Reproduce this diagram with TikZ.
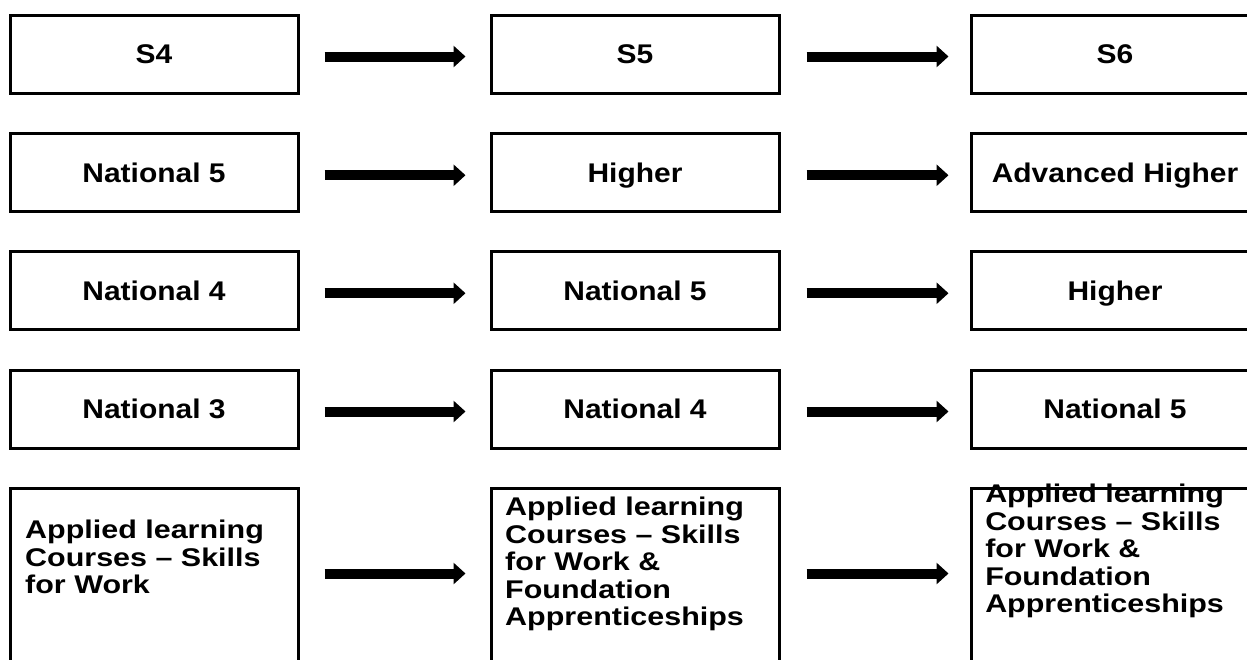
\documentclass[tikz,border=0pt]{standalone}
\usepackage{fontspec}
\setmainfont{Liberation Sans}
\usepackage{graphicx}
\usetikzlibrary{arrows.meta}
\newcommand\hsc[1]{\scalebox{1.11}[1]{#1}}
\begin{document}
\begin{tikzpicture}[x=1pt,y=-1pt,
  box/.style={draw, line width=3pt, minimum width=288pt, minimum height=78pt,
    inner sep=0pt, font=\fontsize{27}{30}\selectfont\bfseries,
    text height=19.3pt, text depth=0pt},
  tallbox/.style={draw, line width=3pt, minimum width=288pt, minimum height=213pt,
    anchor=north, inner sep=0pt},
  longtext/.style={anchor=north west, inner sep=0pt, align=left,
    font=\fontsize{25.6}{27.5}\selectfont\bfseries, xscale=1.19, transform shape},
  arr/.style={line width=10pt, -{Triangle[length=12pt,width=21pt]}},
  arra/.style={arr, shorten <=25pt, shorten >=24pt},
  arrb/.style={arr, shorten <=26pt, shorten >=21pt}]
\clip (0,0) rectangle (1247,659);
\fill[white] (0,0) rectangle (1247,659);
% row 1
\node[box] (a1) at (154,54) {\hsc{S4}};
\node[box] (b1) at (635,54) {\hsc{S5}};
\node[box] (c1) at (1115,54) {\hsc{S6}};
% row 2
\node[box] (a2) at (154,172.75) {\hsc{National 5}};
\node[box] (b2) at (635,172.75) {\hsc{Higher}};
\node[box] (c2) at (1115,172.75) {\hsc{Advanced Higher}};
% row 3
\node[box] (a3) at (154,290.75) {\hsc{National 4}};
\node[box] (b3) at (635,290.75) {\hsc{National 5}};
\node[box] (c3) at (1115,290.75) {\hsc{Higher}};
% row 4
\node[box] (a4) at (154,409) {\hsc{National 3}};
\node[box] (b4) at (635,409) {\hsc{National 4}};
\node[box] (c4) at (1115,409) {\hsc{National 5}};
% row 5
\node[tallbox] (a5) at (154,487) {};
\node[tallbox] (b5) at (635,487) {};
\node[tallbox] (c5) at (1115,487) {};
\node[longtext] (ta5) at (25,520) {Applied learning\\Courses – Skills\\for Work};
\node[longtext] (tb5) at (505,497) {Applied learning\\Courses – Skills\\for Work \&\\Foundation\\Apprenticeships};
\node[longtext] (tc5) at (985,484) {Applied learning\\Courses – Skills\\for Work \&\\Foundation\\Apprenticeships};
% arrows
\foreach \r in {1,2,3,4}{
  \draw[arra] ([yshift=-2.5pt]a\r.east) -- ([yshift=-2.5pt]b\r.west);
  \draw[arrb] ([yshift=-2.5pt]b\r.east) -- ([yshift=-2.5pt]c\r.west);
}
\draw[arra] ([yshift=-86.5pt]a5.north east) -- ([yshift=-86.5pt]b5.north west);
\draw[arrb] ([yshift=-86.5pt]b5.north east) -- ([yshift=-86.5pt]c5.north west);
\end{tikzpicture}
\end{document}
